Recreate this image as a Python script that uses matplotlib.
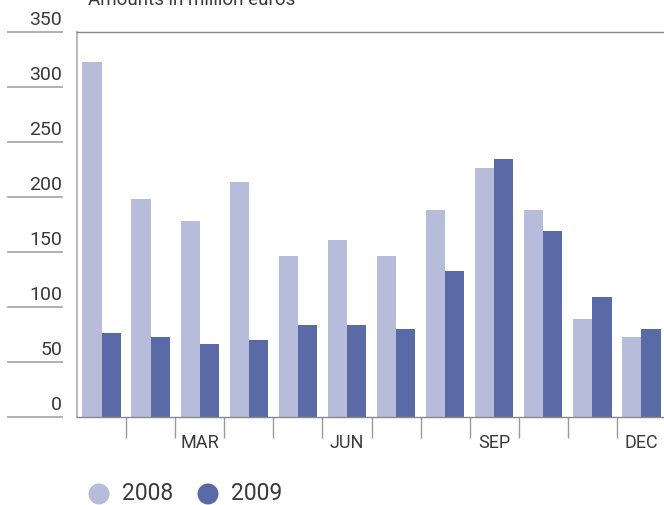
import matplotlib
matplotlib.use("Agg")
import matplotlib.pyplot as plt
import matplotlib.transforms as mtransforms
import numpy as np

months = ["JAN", "FEB", "MAR", "APR", "MAY", "JUN", "JUL", "AUG", "SEP", "OCT", "NOV", "DEC"]
shown_months = ["MAR", "JUN", "SEP", "DEC"]
values_2008 = [323, 198, 178, 214, 146, 161, 146, 188, 226, 188, 89, 73]
values_2009 = [76, 73, 66, 70, 84, 84, 80, 133, 235, 169, 109, 80]
series_names = ["2008", "2009"]
y_ticks = [0, 50, 100, 150, 200, 250, 300, 350]
title = "Amounts in million euros"

c2008 = "#b8bcdb"
c2009 = "#5a6aa6"
txt = "#3a3a3a"
plt.rcParams['font.family'] = ['Roboto', 'DejaVu Sans']

W, H = 664, 505
fig = plt.figure(figsize=(W / 100, H / 100), dpi=100)
ax = fig.add_axes([77 / W, 1 - 417 / H, 589 / W, (417 - 32) / H])

x = np.arange(len(months))
bw = 0.39
ax.bar(x - bw / 2, values_2008, width=bw, color=c2008, linewidth=0)
ax.bar(x + bw / 2, values_2009, width=bw, color=c2009, linewidth=0)

ax.set_xlim(-0.5, 11.5)
ax.set_ylim(0, 350)

ax.spines["left"].set_color("#bbbbbb")
ax.spines["left"].set_linewidth(1.5)
for s in ["top", "bottom"]:
    ax.spines[s].set_color("#888888")
    ax.spines[s].set_linewidth(1.0)
ax.spines["right"].set_visible(False)

# y axis: stub lines with labels above
ax.set_yticks([])
ytr = ax.get_yaxis_transform()
x0 = (8 - 77) / 589
x1 = (62 - 77) / 589
for v in y_ticks:
    ax.plot([x0, x1], [v, v], transform=ytr, color="#aaaaaa", lw=1.3, clip_on=False)
    off = mtransforms.offset_copy(ytr, fig=fig, x=0, y=7, units="dots")
    ax.text(x1, v, str(v), transform=off, ha="right", va="baseline",
            fontsize=14, color=txt)

# x axis: boundary ticks, month labels
ax.set_xticks(np.arange(0.5, 11, 1.0))
ax.set_xticklabels([])
ax.tick_params(axis="x", which="major", length=15, width=1.0, color="#999999", direction="out")
lab_pos = [months.index(m) for m in shown_months]
ax.set_xticks(lab_pos, minor=True)
ax.set_xticklabels(shown_months, minor=True, fontsize=13, color=txt)
ax.tick_params(axis="x", which="minor", length=0, pad=12)

# title (partially cut at top, as in the source)
fig.text(88 / W, 1 - 5 / H, title, ha="left", va="baseline", fontsize=13.5,
         color=txt)

# legend
for cx, tx, name, col in [(99, 122, series_names[0], c2008), (208, 231, series_names[1], c2009)]:
    fig.patches.append(matplotlib.patches.Ellipse((cx / W, 1 - 494 / H), 21 / W, 21 / H,
                                                  transform=fig.transFigure, color=col, lw=0))
    fig.text(tx / W, 1 - 494 / H, name, ha="left", va="center", fontsize=16.5,
             color=txt)

fig.savefig("out.png", dpi=100)
